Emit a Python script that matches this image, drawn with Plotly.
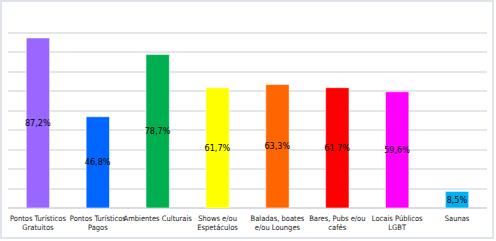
import plotly.graph_objects as go

categories = ["Pontos Turísticos<br>Gratuitos", "Pontos Turísticos<br>Pagos", "Ambientes Culturais",
              "Shows e/ou<br>Espetáculos", "Baladas, boates<br>e/ou Lounges", "Bares, Pubs e/ou<br>cafés",
              "Locais Públicos<br>LGBT", "Saunas"]
values = [87.2, 46.8, 78.7, 61.7, 63.3, 61.7, 59.6, 8.5]
labels = ["87,2%", "46,8%", "78,7%", "61,7%", "63,3%", "61,7%", "59,6%", "8,5%"]
colors = ["#9966FF", "#0066FF", "#00B050", "#FFFF00", "#FF6600", "#FF0000", "#FF00FF", "#00B0F0"]

font = "Liberation Sans Narrow, DejaVu Sans Condensed, sans-serif"

fig = go.Figure(go.Bar(
    x=categories, y=values, text=labels,
    textposition="inside", insidetextanchor="middle", textangle=0, constraintext="none",
    textfont=dict(family=font, size=9, color="#000000"),
    marker=dict(color=colors, line=dict(color="rgba(255,255,255,0.55)", width=1)),
    width=0.39,
))

W, H = 496, 241
ml, mr, mt, mb = 8, 9, 13, 33
pw, ph = W - ml - mr, H - mt - mb
fig.update_layout(
    width=W, height=H,
    margin=dict(l=ml, r=mr, t=mt, b=mb),
    paper_bgcolor="white", plot_bgcolor="white",
    showlegend=False,
    xaxis=dict(tickfont=dict(family=font, size=7.5, color="#1a1a1a"), ticks="", showline=False,
               showgrid=False, tickangle=0, automargin=False, ticklabelstandoff=4),
    yaxis=dict(range=[0, 100], dtick=10, showticklabels=False, showgrid=True,
               gridcolor="#e3e6eb", gridwidth=1.5, zeroline=True, zerolinecolor="#d9dce2",
               zerolinewidth=1.5, automargin=False),
    shapes=[dict(type="rect", xref="paper", yref="paper",
                 x0=(-ml + 1) / pw, x1=1 + (mr - 3) / pw,
                 y0=-(mb - 3) / ph, y1=1 + (mt - 1) / ph,
                 line=dict(color="#dfe3ea", width=2), fillcolor="rgba(0,0,0,0)", layer="below")],
)

fig.write_html("out.html", config={"displayModeBar": False},
               post_script="document.body.style.margin='0';document.body.style.padding='0';")
